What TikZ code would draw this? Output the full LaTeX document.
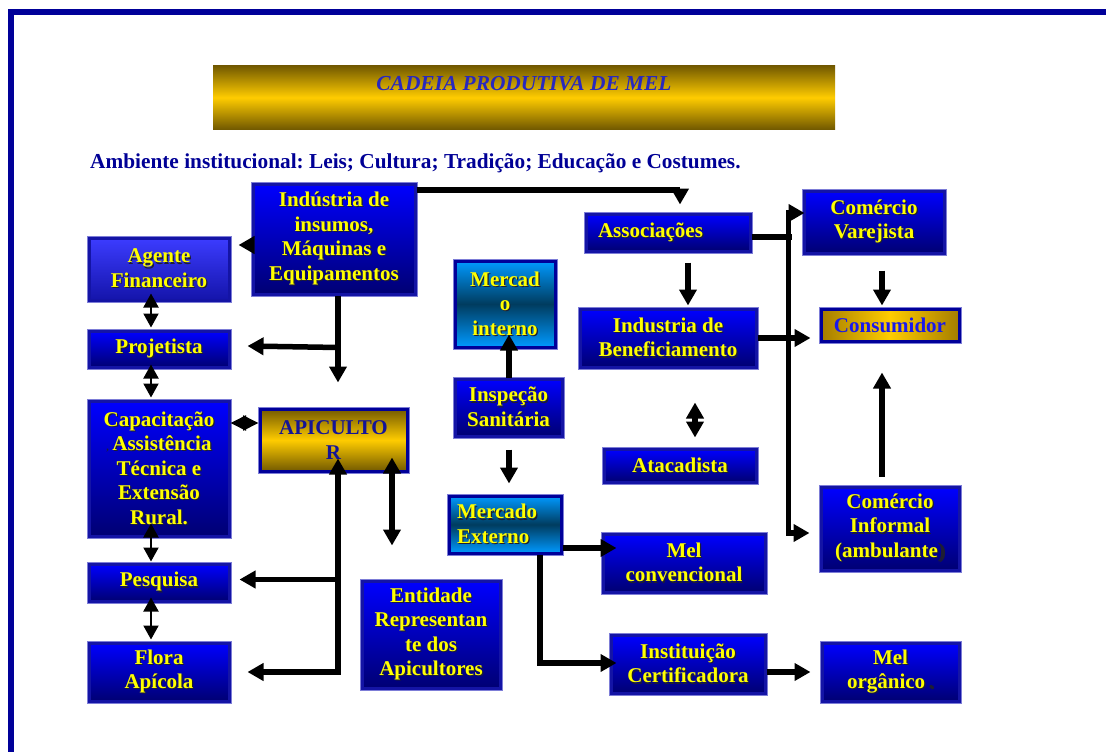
\documentclass[tikz,border=0pt]{standalone}
\usepackage{fontspec}
\setmainfont{Liberation Serif}
\usetikzlibrary{arrows.meta}
\frenchspacing

\definecolor{framec}{RGB}{0,0,153}
\definecolor{boxtop}{RGB}{0,0,255}
\definecolor{boxbot}{RGB}{0,0,115}
\definecolor{boxedge}{RGB}{20,20,165}
\definecolor{boxrim}{RGB}{125,125,215}
\definecolor{agtop}{RGB}{60,60,255}
\definecolor{agbot}{RGB}{20,20,170}
\definecolor{goldmid}{RGB}{255,204,0}
\definecolor{golddark}{RGB}{115,90,0}
\definecolor{goldside}{RGB}{165,125,0}
\definecolor{skylight}{RGB}{0,153,255}
\definecolor{skydark}{RGB}{0,60,95}
\definecolor{labelyellow}{RGB}{255,255,0}
\definecolor{shadowc}{RGB}{30,30,50}
\definecolor{navytext}{RGB}{0,0,150}
\definecolor{titletext}{RGB}{40,40,190}
\definecolor{apitext}{RGB}{20,20,150}
\definecolor{constext}{RGB}{25,25,235}

% yellow label with a small dark drop shadow
\newcommand\sh[1]{\leavevmode\rlap{\kern1.2pt\raisebox{-1.2pt}{\textcolor{shadowc}{#1}}}#1}

\tikzset{
  box/.style={rectangle, inner sep=0pt, align=center, text=labelyellow,
    font=\fontsize{21}{24.5}\selectfont\bfseries,
    top color=boxtop, bottom color=boxbot,
    draw=boxedge, line width=3pt,
    preaction={draw=boxrim, line width=5pt}},
  agbox/.style={box, top color=agtop, bottom color=agbot},
  skybox/.style={box, draw=framec, top color=skylight, bottom color=skylight, middle color=skydark},
  goldbox/.style={box, draw=framec, text=apitext, top color=golddark, bottom color=golddark, middle color=goldmid},
  goldbar/.style={rectangle, inner sep=0pt, top color=golddark, bottom color=golddark, middle color=goldmid},
  big/.style={line width=5.5pt, -{Triangle[width=17pt,length=16pt]}},
  bigboth/.style={line width=5.5pt, {Triangle[width=17pt,length=16pt]}-{Triangle[width=17pt,length=16pt]}},
  slim/.style={line width=2pt, {Triangle[width=15pt,length=14pt]}-{Triangle[width=15pt,length=14pt]}},
  diam/.style={line width=2pt, {Triangle[width=15pt,length=15.5pt]}-{Triangle[width=15pt,length=15.5pt]}},
}

\begin{document}
\begin{tikzpicture}[x=1pt,y=-1pt]
\useasboundingbox (0,0) rectangle (1106,752);
\fill[white] (0,0) rectangle (1106,752);

% slide frame
\fill[framec] (8,9) rectangle (1106,15);
\fill[framec] (8,9) rectangle (14,752);

% heading
\node[goldbar, minimum width=622pt, minimum height=63pt] (titlebar) at (524,97.5) {};
\node[anchor=base, inner sep=0pt, text=titletext,
      font=\fontsize{21.4}{24}\selectfont\bfseries\itshape] (titlelbl) at (524,91) {CADEIA PRODUTIVA DE MEL};
\node[anchor=base west, inner sep=0pt, text=navytext,
      font=\fontsize{21.3}{24}\selectfont\bfseries] (ambiente) at (90,168)
  {Ambiente institucional: Leis; Cultura; Tradição; Educação e Costumes.};

% left column
\node[box, minimum width=162pt, minimum height=110pt] (ind) at (334,239)
  {\sh{Indústria de}\\\sh{insumos,}\\\sh{Máquinas e}\\\sh{Equipamentos}};
\node[agbox, minimum width=140pt, minimum height=62pt] (agente) at (159,269)
  {\sh{Agente}\\\sh{Financeiro}};
\node[box, minimum width=140pt, minimum height=36pt] (proj) at (159,349) {\sh{Projetista}};
\node[box, minimum width=140pt, minimum height=135pt] (cap) at (159,468.5)
  {\sh{Capacitação}\\{\fontsize{10}{10}\selectfont\textcolor{shadowc}{,}}\,\sh{Assistência}\\\sh{Técnica e}\\\sh{Extensão}\\\sh{Rural.}};
\node[goldbox, minimum width=147pt, minimum height=62pt] (api) at (333.5,440) {APICULTO\\R};
\node[box, minimum width=140pt, minimum height=37pt] (pesq) at (159,582.5) {\sh{Pesquisa}};
\node[box, minimum width=140pt, minimum height=58pt] (flora) at (159,672) {\sh{Flora}\\\sh{Apícola}};
\node[box, minimum width=138pt, minimum height=107pt] (ent) at (431,634.5)
  {\sh{Entidade}\\\sh{Representan}\\\sh{te dos}\\\sh{Apicultores}};

% markets and inspection
\node[skybox, minimum width=100pt, minimum height=86pt] (mint) at (505,304)
  {\sh{Mercad}\\\sh{o}\\\sh{interno}};
\node[box, minimum width=107pt, minimum height=57pt] (insp) at (508.5,407.5)
  {\sh{Inspeção}\\\sh{Sanitária}};
\node[skybox, minimum width=112pt, minimum height=57pt, align=left,
      text width=96pt, inner xsep=8pt] (mext) at (505,524.5)
  {\sh{Mercado}\\\sh{Externo}};

% processing and trade
\node[box, minimum width=164pt, minimum height=37pt, align=left,
      text width=140pt, inner xsep=12pt] (assoc) at (668,232.5) {\sh{Associações}};
\node[box, minimum width=176pt, minimum height=58pt] (benef) at (668,338)
  {\sh{Industria de}\\\sh{Beneficiamento}};
\node[box, minimum width=152pt, minimum height=33pt] (atac) at (680,465.5) {\sh{Atacadista}};
\node[box, minimum width=162pt, minimum height=58pt] (melconv) at (684,563)
  {\sh{Mel}\\\sh{convencional}};
\node[box, minimum width=154pt, minimum height=58pt] (inst) at (688,664)
  {\sh{Instituição}\\\sh{Certificadora}};

% retail and consumer
\node[box, minimum width=140pt, minimum height=62pt] (varej) at (874,222)
  {\sh{Comércio}\\\sh{Varejista}};
\node[goldbox, text=constext, left color=goldside, right color=goldside, middle color=goldmid,
      minimum width=138pt, minimum height=32pt] (cons) at (890,325) {Consumidor};
\node[box, minimum width=138pt, minimum height=83pt] (inform) at (890,528.5)
  {\sh{Comércio}\\\sh{Informal}\\\sh{(ambulante\textcolor{shadowc}{)}}};
\node[box, minimum width=137pt, minimum height=58pt] (melorg) at (890.5,672)
  {\sh{Mel}\\\sh{orgânico\,\textcolor{shadowc}{.}}};

% ---- connectors ----
% supply industry
\draw[big] ([shift={(0,-49)}]ind.east) -| ([shift={(12,-8)}]assoc.north);
\draw[big] ([shift={(0,6)}]ind.west) -- ([shift={(8,-24)}]agente.east);
\draw[big] ([xshift=4pt]ind.south) -- ([shift={(4.5,-25)}]api.north);
\draw[big] ([shift={(4,52)}]ind.south) -- ([shift={(17,-3)}]proj.east);

% support chain on the left
\draw[slim] ([shift={(-8,-8)}]agente.south) -- ([shift={(-8,-2)}]proj.north);
\draw[slim] ([shift={(-8,-4)}]proj.south) -- ([shift={(-8,-2)}]cap.north);
\draw[slim] ([shift={(-8,-14)}]cap.south) -- ([shift={(-8,-1)}]pesq.north);
\draw[slim] ([shift={(-8,-5)}]pesq.south) -- ([shift={(-8,-2)}]flora.north);
\draw[diam] ([shift={(0,-45.5)}]cap.east) -- ([shift={(0,-17)}]api.west);

% beekeeper links
\draw[bigboth] ([xshift=17pt]flora.east) -| ([shift={(4.5,-14)}]api.south);
\draw[big] ([shift={(109,-3)}]pesq.east) -- ([shift={(9,-3)}]pesq.east);
\draw[bigboth] ([shift={(58.5,-15)}]api.south) -- ([shift={(-39,-34)}]ent.north);

% inspection and markets
\draw[big] ([xshift=0.5pt]insp.north) -- ([shift={(4,-14)}]mint.south);
\draw[big] ([shift={(0.5,12)}]insp.south) -- ([shift={(4,-11)}]mext.north);
\draw[big] ([shift={(0,23.5)}]mext.east) -- ([shift={(15,-15)}]melconv.west);
\draw[big] ([xshift=35pt]mext.south) |- ([shift={(7,-1)}]inst.west);
\draw[big] ([shift={(0,8)}]inst.east) -- ([shift={(-10,0)}]melorg.west);

% associations and processing
\draw[big] ([shift={(20,10)}]assoc.south) -- ([shift={(20,-2)}]benef.north);
\draw[bigboth] ([shift={(27,34)}]benef.south) -- ([shift={(15,-10)}]atac.north);
\draw[line width=5.5pt] ([shift={(0,4.5)}]assoc.east) -- ([shift={(40,4.5)}]assoc.east);
\draw[bigboth] ([shift={(2,-9)}]varej.west) -| ([shift={(-31,4.5)}]inform.west)
  -- ([shift={(-10,4.5)}]inform.west);
\draw[big] (benef.east) -- ([shift={(-9,13)}]cons.west);

% toward the consumer
\draw[big] ([shift={(8,16)}]varej.south) -- ([shift={(-8,-2)}]cons.north);
\draw[big] ([shift={(-8,-9)}]inform.north) -- ([shift={(-8,30)}]cons.south);
\end{tikzpicture}
\end{document}
